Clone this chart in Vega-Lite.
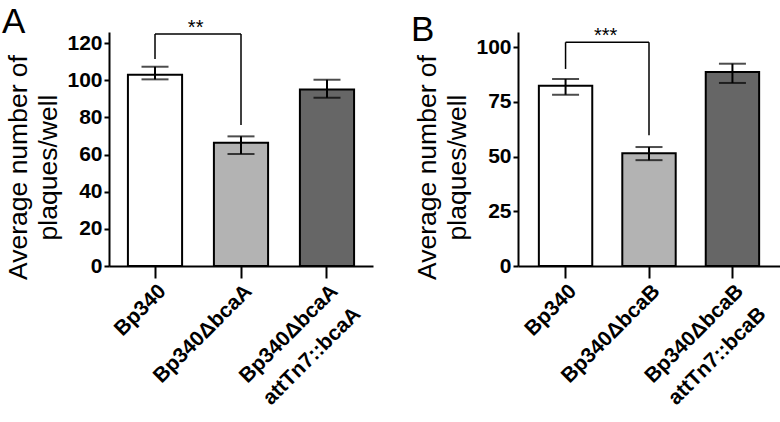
{
  "$schema": "https://vega.github.io/schema/vega-lite/v6.json",
  "padding": {"left": 1, "top": 5, "right": 0, "bottom": 0},
  "background": "white",
  "spacing": 37,
  "config": {
    "view": {"stroke": null},
    "font": "Liberation Sans",
    "axis": {
      "domainColor": "black", "domainWidth": 2, "tickColor": "black", "tickWidth": 2,
      "labelColor": "black", "titleColor": "black", "grid": false,
      "labelFont": "Liberation Sans", "titleFont": "Liberation Sans"
    },
    "axisX": {"title": null, "labelAngle": -45, "labelAlign": "right", "labelBaseline": "top",
      "labelFontSize": 21, "labelFontWeight": "bold", "tickSize": 12, "labelPadding": 2,
      "labelExpr": "split(datum.label, '|')", "labelLimit": 400, "labelOverlap": false, "labelLineHeight": 32},
    "axisY": {"titleFontSize": 26.5, "titleFontWeight": "normal", "labelFontSize": 21, "labelFontWeight": "bold",
      "tickSize": 5, "labelPadding": 2, "titlePadding": 4, "labelOverlap": false, "titleY": 135, "titleLineHeight": 30},
    "title": {"font": "Liberation Sans", "fontSize": 35, "fontWeight": "normal", "anchor": "start", "frame": "bounds", "color": "black", "offset": -22, "dx": -4}
  },
  "hconcat": [
    {
      "title": "A",
      "width": 264,
      "height": 234,
      "data": {"values": [
        {"strain": "Bp340", "mean": 103, "lo": 100.5, "hi": 107.3, "grp": "wt"},
        {"strain": "Bp340ΔbcaA", "mean": 66.4, "lo": 60.3, "hi": 69.8, "grp": "mut"},
        {"strain": "Bp340ΔbcaA|attTn7::bcaA", "mean": 95.1, "lo": 90.6, "hi": 100.3, "grp": "comp"}
      ]},
      "encoding": {
        "x": {"field": "strain", "type": "nominal", "sort": null,
          "scale": {"paddingInner": 0.37, "paddingOuter": 0.22}}
      },
      "layer": [
        {
          "mark": {"type": "bar", "stroke": "black", "strokeWidth": 2},
          "encoding": {
            "y": {"field": "mean", "type": "quantitative", "scale": {"domain": [0, 126], "nice": false},
              "axis": {"values": [0, 20, 40, 60, 80, 100, 120], "tickCount": 7, "labelOverlap": false, "labelSeparation": 0, "title": ["Average number of", "plaques/well"]}},
            "fill": {"field": "grp", "type": "nominal", "scale": {"domain": ["wt", "mut", "comp"], "range": ["#ffffff", "#b3b3b3", "#666666"]}, "legend": null}
          }
        },
        {
          "mark": {"type": "rule", "color": "black", "strokeWidth": 2},
          "encoding": {"y": {"field": "lo", "type": "quantitative"}, "y2": {"field": "hi"}}
        },
        {
          "mark": {"type": "tick", "color": "black", "thickness": 2, "size": 27},
          "encoding": {"y": {"field": "lo", "type": "quantitative"}}
        },
        {
          "mark": {"type": "tick", "color": "black", "thickness": 2, "size": 27},
          "encoding": {"y": {"field": "hi", "type": "quantitative"}}
        },
        {
          "data": {"values": [
            {"a": "Bp340", "b": "Bp340ΔbcaA", "y1": 124.9, "y2": 124.9},
            {"a": "Bp340", "b": "Bp340", "y1": 111.4, "y2": 124.9},
            {"a": "Bp340ΔbcaA", "b": "Bp340ΔbcaA", "y1": 75.9, "y2": 124.9}
          ]},
          "mark": {"type": "rule", "color": "black", "strokeWidth": 1.5, "clip": false},
          "encoding": {
            "x": {"field": "a", "type": "nominal", "sort": null},
            "x2": {"field": "b"},
            "y": {"field": "y1", "type": "quantitative"},
            "y2": {"field": "y2"}
          }
        },
        {
          "data": {"values": [{"a": "Bp340", "y": 124.9, "lab": "**"}]},
          "mark": {"type": "text", "fontSize": 20, "baseline": "alphabetic", "color": "black", "clip": false},
          "encoding": {
            "x": {"field": "a", "type": "nominal", "sort": null, "bandPosition": 1.25},
            "y": {"field": "y", "type": "quantitative"},
            "text": {"field": "lab"}
          }
        }
      ]
    },
    {
      "title": "B",
      "width": 262,
      "height": 234,
      "data": {"values": [
        {"strain": "Bp340", "mean": 82.4, "lo": 78.3, "hi": 85.5, "grp": "wt"},
        {"strain": "Bp340ΔbcaB", "mean": 51.6, "lo": 48.4, "hi": 54.4, "grp": "mut"},
        {"strain": "Bp340ΔbcaB|attTn7::bcaB", "mean": 88.7, "lo": 83.7, "hi": 92.5, "grp": "comp"}
      ]},
      "encoding": {
        "x": {"field": "strain", "type": "nominal", "sort": null,
          "scale": {"paddingInner": 0.36, "paddingOuter": 0.25}}
      },
      "layer": [
        {
          "mark": {"type": "bar", "stroke": "black", "strokeWidth": 2},
          "encoding": {
            "y": {"field": "mean", "type": "quantitative", "scale": {"domain": [0, 107], "nice": false},
              "axis": {"values": [0, 25, 50, 75, 100], "labelOverlap": false, "title": ["Average number of", "plaques/well"]}},
            "fill": {"field": "grp", "type": "nominal", "scale": {"domain": ["wt", "mut", "comp"], "range": ["#ffffff", "#b3b3b3", "#666666"]}, "legend": null}
          }
        },
        {
          "mark": {"type": "rule", "color": "black", "strokeWidth": 2},
          "encoding": {"y": {"field": "lo", "type": "quantitative"}, "y2": {"field": "hi"}}
        },
        {
          "mark": {"type": "tick", "color": "black", "thickness": 2, "size": 27},
          "encoding": {"y": {"field": "lo", "type": "quantitative"}}
        },
        {
          "mark": {"type": "tick", "color": "black", "thickness": 2, "size": 27},
          "encoding": {"y": {"field": "hi", "type": "quantitative"}}
        },
        {
          "data": {"values": [
            {"a": "Bp340", "b": "Bp340ΔbcaB", "y1": 102.3, "y2": 102.3},
            {"a": "Bp340", "b": "Bp340", "y1": 90.1, "y2": 102.3},
            {"a": "Bp340ΔbcaB", "b": "Bp340ΔbcaB", "y1": 59.8, "y2": 102.3}
          ]},
          "mark": {"type": "rule", "color": "black", "strokeWidth": 1.5, "clip": false},
          "encoding": {
            "x": {"field": "a", "type": "nominal", "sort": null},
            "x2": {"field": "b"},
            "y": {"field": "y1", "type": "quantitative"},
            "y2": {"field": "y2"}
          }
        },
        {
          "data": {"values": [{"a": "Bp340", "y": 102.3, "lab": "***"}]},
          "mark": {"type": "text", "fontSize": 20, "baseline": "alphabetic", "color": "black", "clip": false},
          "encoding": {
            "x": {"field": "a", "type": "nominal", "sort": null, "bandPosition": 1.25},
            "y": {"field": "y", "type": "quantitative"},
            "text": {"field": "lab"}
          }
        }
      ]
    }
  ]
}
